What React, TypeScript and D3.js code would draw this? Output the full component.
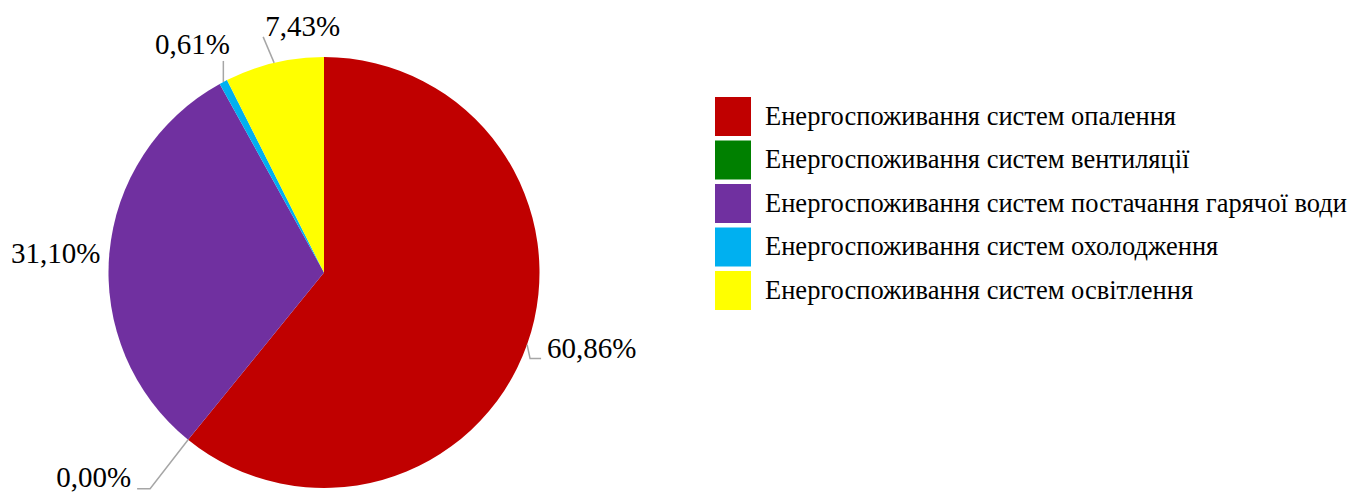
import React from "react";
import * as d3 from "d3";

const categories = [
  "Енергоспоживання систем опалення",
  "Енергоспоживання систем вентиляції",
  "Енергоспоживання систем постачання гарячої води",
  "Енергоспоживання систем охолодження",
  "Енергоспоживання систем освітлення",
];
const values = [60.86, 0.0, 31.1, 0.61, 7.43];
const labels = ["60,86%", "0,00%", "31,10%", "0,61%", "7,43%"];
const colors = ["#C00000", "#008000", "#7030A0", "#00B0F0", "#FFFF00"];

type LabelLayout = { line: [number, number][]; tx: number; ty: number; anchor: string };
const layouts: LabelLayout[] = [
  { line: [[0, 0], [3, 14], [14, 14]], tx: 20, ty: 13, anchor: "start" },
  { line: [[0, 0], [-38, 49], [-51, 49]], tx: -57, ty: 47, anchor: "end" },
  { line: [], tx: -9, ty: 10, anchor: "end" },
  { line: [[0, 0], [0, -21]], tx: -31, ty: -28, anchor: "middle" },
  { line: [[0, 0], [-11, -26]], tx: -9, ty: -27, anchor: "start" },
];

const FONT = "Liberation Serif";

export default function App() {
  const W = 1370, H = 492;
  const cx = 324, cy = 272.5, r = 215.5;
  const pie = d3.pie<number>().sort(null).value((d) => d);
  const arcs = pie(values);
  const arc = d3.arc<d3.PieArcDatum<number>>().innerRadius(0).outerRadius(r);
  const legendY = d3.scaleLinear().domain([0, 1]).range([116.5, 160]);

  return (
    <svg width={W} height={H} style={{ position: "absolute", left: 0, top: 0, background: "#fff" }}>
      <g transform={`translate(${cx},${cy})`}>
        {arcs.map((a, i) => (
          <path key={i} d={arc(a) || ""} fill={colors[i]} />
        ))}
        {arcs.map((a, i) => {
          const mid = (a.startAngle + a.endAngle) / 2;
          const ex = r * Math.sin(mid), ey = -r * Math.cos(mid);
          const L = layouts[i];
          const pts = L.line.map(([dx, dy]) => [ex + dx, ey + dy] as [number, number]);
          return (
            <g key={i}>
              {pts.length > 0 && (
                <path d={d3.line()(pts) || ""} fill="none" stroke="#A6A6A6" strokeWidth={1.5} />
              )}
              <text x={ex + L.tx} y={ey + L.ty} textAnchor={L.anchor} fontSize={29} fill="#000" fontFamily={FONT}>
                {labels[i]}
              </text>
            </g>
          );
        })}
      </g>
      <g>
        {categories.map((c, i) => (
          <g key={i} transform={`translate(715,${legendY(i)})`}>
            <rect x={0} y={-19.5} width={36} height={39} fill={colors[i]} />
            <text x={50} y={8} fontSize={26.5} fill="#000" fontFamily={FONT}>{c}</text>
          </g>
        ))}
      </g>
    </svg>
  );
}
